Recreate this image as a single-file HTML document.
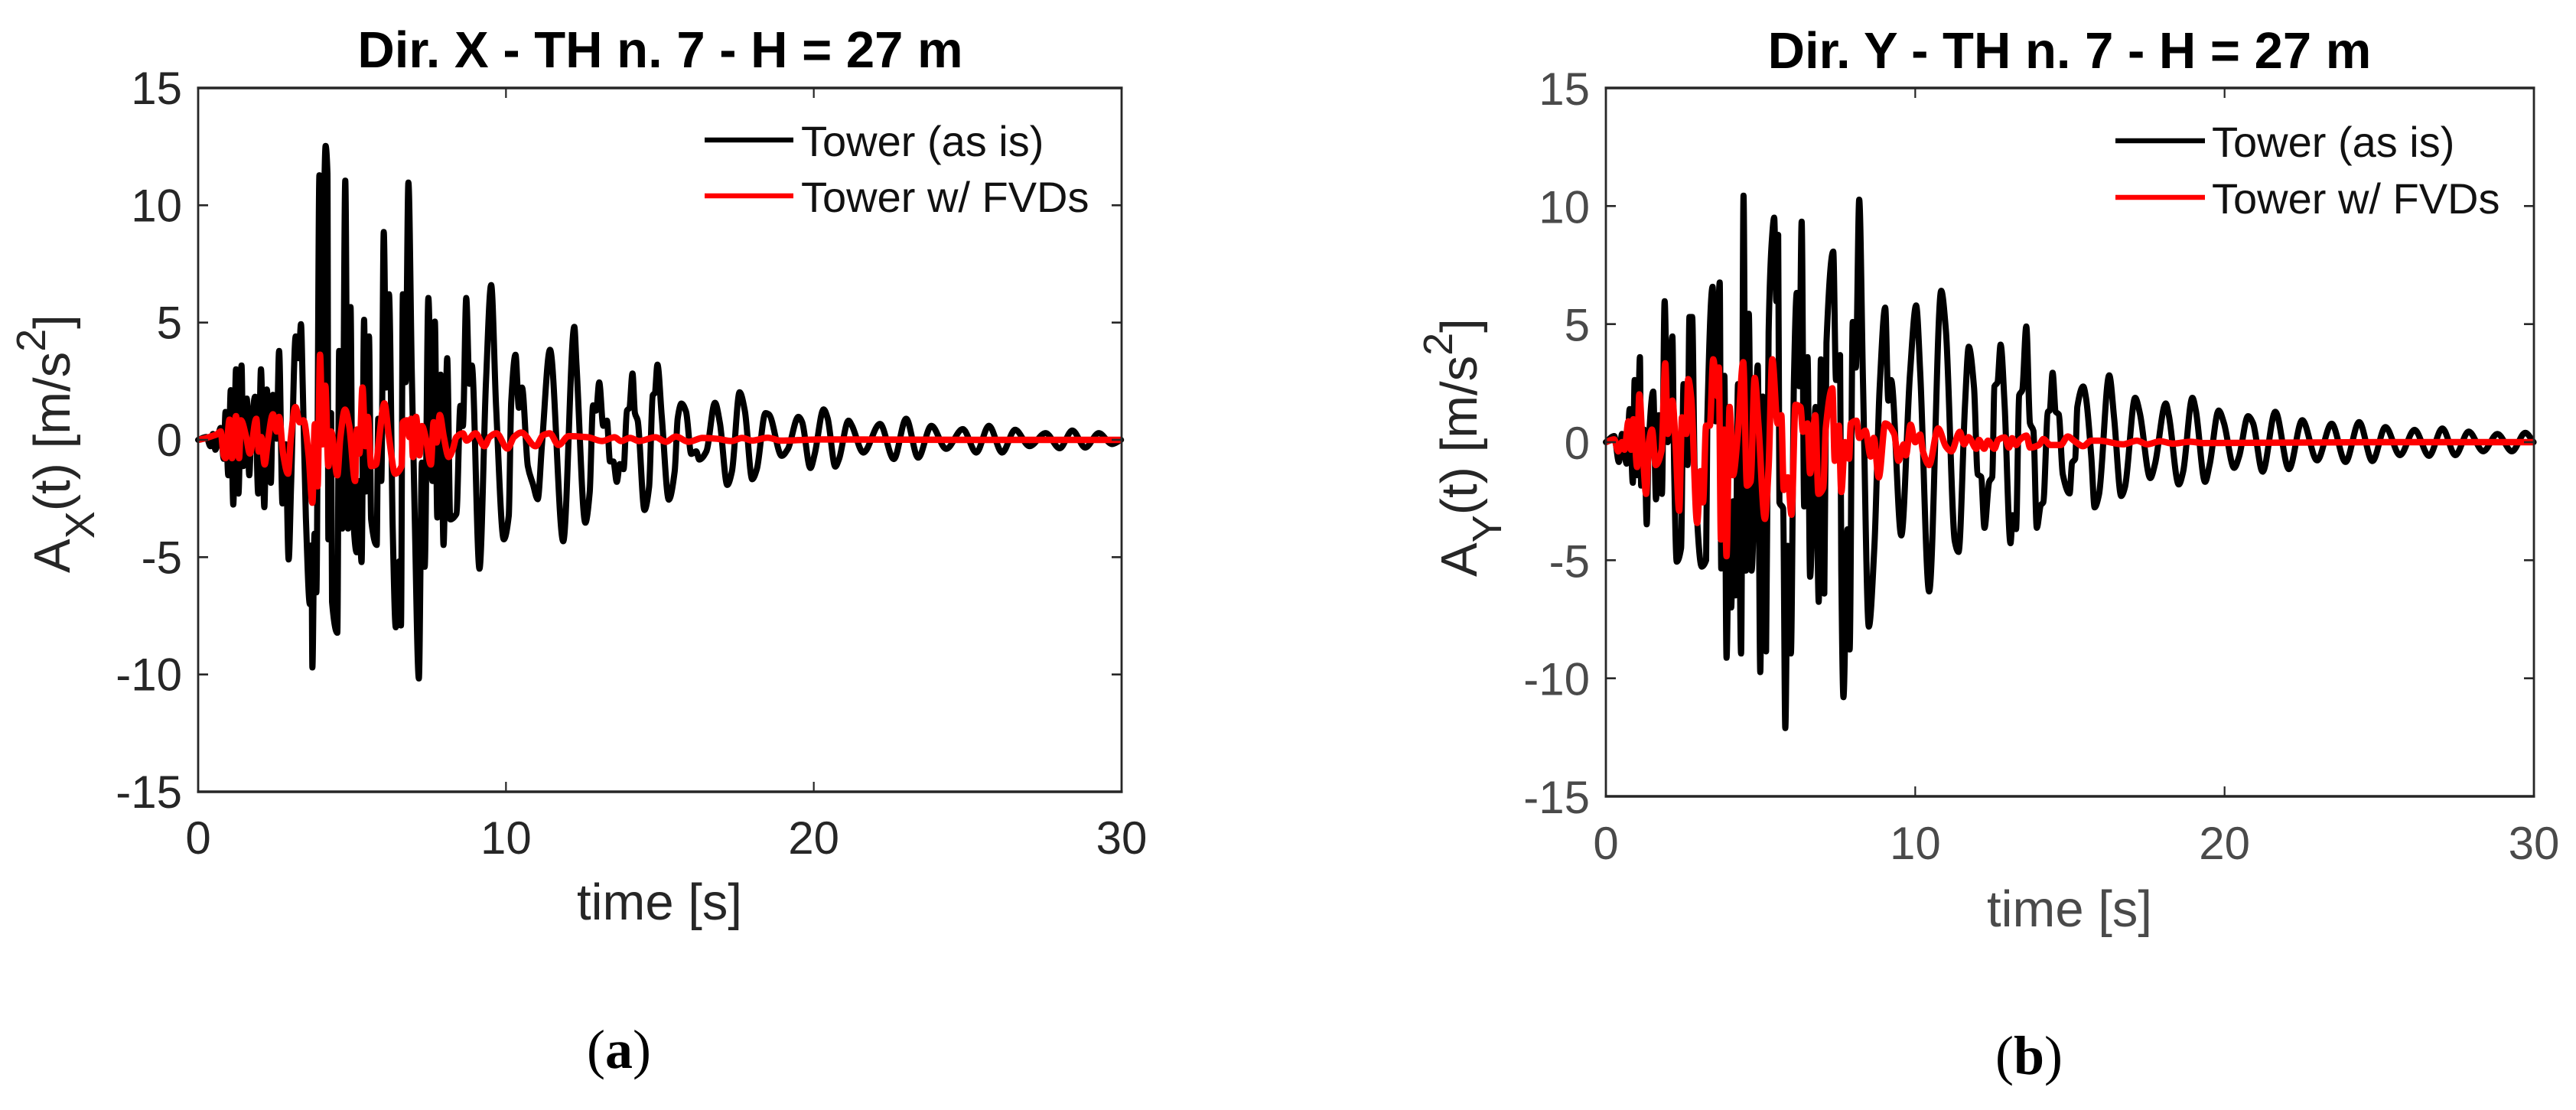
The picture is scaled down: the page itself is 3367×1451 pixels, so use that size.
<!DOCTYPE html>
<html lang="en">
<head>
<meta charset="utf-8">
<title>Tower acceleration time histories</title>
<style>
html,body{margin:0;padding:0;background:#fff;}
svg{display:block;font-family:"Liberation Sans",Arial,sans-serif;}
</style>
</head>
<body>
<svg id="figure" xmlns="http://www.w3.org/2000/svg" width="3367" height="1451" viewBox="0 0 3367 1451">
<rect x="0" y="0" width="3367" height="1451" fill="#fff"/>
<g id="panel-a"></g>
<g id="panel-b"></g>
<text x="809" y="1396" text-anchor="middle" font-family="'Liberation Serif',serif" font-size="72" fill="#000">(<tspan font-weight="bold">a</tspan>)</text>
<text x="2652" y="1404" text-anchor="middle" font-family="'Liberation Serif',serif" font-size="72" fill="#000">(<tspan font-weight="bold">b</tspan>)</text>
</svg>
<script>
var xTicks = [0, 10, 20, 30];
var yTicks = [-15, -10, -5, 0, 5, 10, 15];
var xTickLabels = ['0', '10', '20', '30'];
var yTickLabels = ['-15', '-10', '-5', '0', '5', '10', '15'];
var legendLabels = ['Tower (as is)', 'Tower w/ FVDs'];

var dirXAsIsTime = [
0,.27,.40,.48,.56,.73,.83,.89,.98,1.06,
1.14,1.23,1.31,1.41,1.47,1.58,1.66,1.72,1.85,1.95,
2.04,2.15,2.23,2.36,2.43,2.55,2.63,2.74,2.84,2.94,
3.02,3.17,3.27,3.34,3.40,3.50,3.63,3.68,3.71,3.78,3.84,3.94,4.0,4.08,
4.14,4.2,4.23,4.32,4.35,4.52,4.58,4.68,4.78,4.87,
4.95,5.01,5.15,5.20,5.31,5.39,5.45,5.55,5.62,5.80,
5.85,5.95,6.03,6.11,6.20,6.32,6.42,6.53,6.59,6.65,
6.74,6.83,6.94,7.03,7.17,7.27,7.36,7.48,7.61,7.69,
7.77,7.88,7.97,8.09,8.19,8.39,8.52,8.6,8.71,8.81,
8.89,9.14,9.35,9.52,9.68,9.93,10.09,10.17,10.31,10.42,
10.52,10.71,10.88,11.03,11.17,11.43,11.86,12.22,12.29,12.58,
12.72,12.83,12.93,13.03,13.16,13.28,13.38,13.49,13.6,13.7,
13.82,13.93,14.01,14.11,14.19,14.28,14.5,14.65,14.77,14.84,
14.92,15.06,15.29,15.48,15.58,15.7,15.85,16.02,16.18,16.28,
16.51,16.79,16.95,17.19,17.34,17.59,17.76,18.0,18.15,18.43,
18.54,18.96,19.16,19.5,19.62,19.89,20.03,20.32,20.45,20.7,
20.82,21.13,21.24,21.61,22.15,22.60,23.0,23.39,23.82,24.3,
24.84,25.28,25.69,26.12,26.54,27.01,27.53,27.99,28.4,28.82,
29.26,29.69,29.98];
var dirXAsIsAccel = [
0,.12,-.27,.25,-.42,.51,-.81,1.19,-1.51,2.12,
-2.76,3.01,-2.29,3.17,-1.12,1.76,-1.51,.20,1.84,-2.29,
3.01,-2.87,2.15,-1.83,1.92,.05,3.79,-2.71,-.19,-5.10,
-1.9,4.41,3.48,4.93,2.15,-3.31,-7,-4.5,-9.70,-4,-6.5,11.28,1.5,9.5,
12.53,11.36,-4.24,1.14,-6.9,-8.22,3.79,-3.78,11.05,-3.78,
5.66,-2.53,-4.79,-1.75,-5.21,5.12,-2.2,4.41,-3.39,-4.48,
.90,-1.75,8.86,2.23,6.21,-3.78,-7.99,-5.18,-7.91,6.21,
2.46,10.97,2.93,-2.84,-10.17,-.97,-5.41,6.05,-1.75,5.04,
-3.31,2.78,-4.48,3.48,-3.39,-3.15,1.45,.59,6.05,2.39,
3.17,-5.49,2.46,6.6,1.37,-4.24,-3.23,1.61,3.63,1.37,
2.23,-1.12,-1.9,-2.53,-.19,3.84,-4.32,4.82,3.21,-3.53,
-2.23,1.47,1.25,2.45,.6,.82,-.92,-.92,-1.79,-1.03,
-1.25,1.25,1.36,2.83,1.14,.82,-2.99,-2.01,1.9,2.01,
3.21,1.03,-2.55,-1.36,.92,1.55,1.2,-.6,-.49,-.84,
-.49,1.58,.71,-1.92,-1.36,2.03,1.25,-1.68,-1.25,1.14,
1.09,-.68,-.38,.98,.76,-1.2,-.6,1.3,.92,-1.14,
-.82,.82,.6,-.54,.68,-.82,.9,-.76,.6,-.38,
.46,-.54,.6,-.54,.43,-.27,.29,-.36,.4,-.33,
.29,-.18,0];

var dirXFvdTime = [
0,.27,.44,.6,.73,.83,.89,1.02,1.10,1.23,
1.33,1.39,1.56,1.68,1.89,1.97,2.05,2.16,2.26,2.43,
2.55,2.63,2.76,2.92,3.01,3.16,3.3,3.42,3.59,3.71,
3.79,3.88,3.96,4.04,4.13,4.23,4.32,4.52,4.62,4.77,
4.91,5.1,5.16,5.24,5.34,5.43,5.51,5.62,5.78,5.87,
6.05,6.2,6.4,6.61,6.65,6.78,6.86,6.92,6.98,7.08,
7.19,7.27,7.4,7.56,7.65,7.75,7.85,7.98,8.14,8.27,
8.39,8.6,8.72,9.01,9.3,9.47,9.69,10.05,10.26,10.5,
10.96,11.21,11.42,11.71,12.04,12.66,13.12,13.53,13.74,14.03,
14.32,14.86,15.19,15.52,15.93,16.39,16.84,17.34,17.67,18.0,
18.5,18.92,20.24,25,30];
var dirXFvdAccel = [
0,.08,.16,.23,.36,-.66,-.78,.86,-.78,1.01,
-.78,.83,.12,-.58,.9,-.5,.12,-1.05,-.11,1.09,
.36,.98,-.58,-1.44,.05,1.4,.75,.83,-.66,-2.68,
.67,-1.98,3.63,-.19,2.31,-1.12,.36,-1.51,.12,1.29,
.59,-1.75,.44,-.58,2.23,-.27,.98,-1.12,-1.05,-.03,
1.56,.12,-1.44,-1.12,.75,.83,.12,.9,-.73,.98,
-.66,.59,.05,-1.05,.75,-.11,1.06,.12,-.73,-.42,
.12,.28,-.03,.28,-.27,.12,.28,-.37,.12,.31,
-.27,.2,.28,-.22,.16,.11,-.05,.11,-.05,.08,
-.05,.11,-.08,.14,-.08,.08,.05,-.05,.08,-.03,
.09,-.03,.02,0,0];

var dirYAsIsTime = [
0,.27,.42,.52,.67,.77,.87,.93,1.01,1.10,
1.14,1.24,1.32,1.38,1.53,1.62,1.71,1.81,1.9,2.0,
2.15,2.21,2.29,2.43,2.51,2.64,2.7,2.79,2.87,3.1,
3.24,3.28,3.45,3.55,3.68,3.73,3.83,3.9,3.98,4.05,4.12,4.19,
4.27,4.37,4.45,4.53,4.62,4.71,4.91,4.99,5.07,5.18,
5.26,5.36,5.44,5.51,5.57,5.61,5.73,5.8,5.88,5.98,
6.08,6.17,6.25,6.33,6.41,6.52,6.6,6.78,6.88,6.95,
7.06,7.13,7.35,7.44,7.57,7.61,7.68,7.81,7.88,7.98,
8.08,8.19,8.31,8.5,8.68,8.85,9.03,9.13,9.22,9.55,
9.83,10.03,10.16,10.45,10.84,10.99,11.28,11.4,11.61,11.73,
11.9,12.02,12.13,12.24,12.39,12.49,12.56,12.66,12.76,12.89,
13.08,13.15,13.26,13.36,13.46,13.59,13.71,13.82,13.93,14.06,
14.14,14.29,14.35,14.44,14.54,14.64,14.77,14.99,15.07,15.17,
15.24,15.43,15.52,15.69,15.8,15.94,16.27,16.43,16.66,16.78,
17.11,17.26,17.6,17.75,18.1,18.2,18.52,18.66,18.96,19.07,
19.37,19.52,19.81,19.98,20.31,20.47,20.76,20.92,21.23,21.64,
22.08,22.51,22.99,23.46,23.91,24.35,24.78,25.2,25.67,26.14,
26.61,27.04,27.46,27.89,28.36,28.82,29.29,29.72,29.99];
var dirYAsIsAccel = [
0,.26,-.84,.35,-.91,1.4,-1.72,2.63,-1.4,3.6,
-1.84,.53,-3.48,-.18,2.14,-2.42,1.14,-2.19,5.97,0,
4.48,-1.4,-5.06,-4.48,2.46,-.97,5.3,5.3,-1.05,-5.27,
-5.0,.97,6.58,.88,6.76,-5.35,2.81,-9.13,-3.69,-7,-2.5,-6.49,
2.46,-8.95,10.44,-5.44,5.44,-5.44,3.25,-9.74,1.93,-8.86,
4.65,8.43,9.51,5.97,8.78,-2.55,-2.81,-12.11,-4.39,-8.95,
2.63,6.32,2.37,9.34,-2.72,3.6,-5.7,1.49,-6.76,3.51,
-6.41,4.21,8.07,2.63,3.69,-5.44,-10.8,-3.69,-8.78,5.09,
3.16,10.27,2.63,-7.81,-4.39,2.28,5.7,1.76,2.63,-3.95,
2.9,5.79,2.98,-6.32,6.41,4.74,-4.21,-4.65,1.58,4.04,
2.31,-1.36,-1.47,-3.63,-1.68,-1.47,2.36,2.53,4.13,1.56,
-4.28,-3.09,-3.68,1.99,2.2,4.9,.8,.48,-3.63,-2.66,
-2.55,1.29,1.34,2.94,1.29,1.18,-1.36,-2.17,-.87,-.71,
1.5,2.36,1.88,-.6,-2.76,-2.22,2.83,1.02,-2.28,-1.9,
1.88,1.23,-1.52,-.93,1.64,1.12,-1.79,-1.25,1.88,1.34,
-1.68,-.93,1.34,.8,-1.09,-.6,1.1,.8,-1.25,1.29,
-1.14,.93,-.77,.78,-.84,.85,-.8,.64,-.55,.52,
-.58,.58,-.55,.45,-.39,.35,-.39,.4,0];

var dirYFvdTime = [
0,.27,.4,.52,.6,.73,.81,.89,1.01,1.08,
1.2,1.3,1.39,1.49,1.61,1.8,1.92,2.0,2.15,2.25,
2.37,2.46,2.6,2.66,2.76,2.95,3.06,3.14,3.24,3.36,
3.47,3.61,3.65,3.72,3.82,3.9,4.0,4.11,4.27,4.44,
4.56,4.68,4.81,4.93,5.14,5.26,5.38,5.55,5.67,5.75,
5.88,6.0,6.13,6.29,6.37,6.52,6.6,6.77,6.87,7.03,
7.11,7.32,7.4,7.53,7.61,7.73,7.86,7.92,8.1,8.19,
8.39,8.56,8.66,8.82,9.03,9.32,9.46,9.63,9.7,9.85,
10.0,10.16,10.25,10.45,10.74,10.99,11.17,11.44,11.58,11.72,
11.98,12.06,12.23,12.35,12.56,12.68,12.89,13.03,13.13,13.26,
13.38,13.6,13.71,14.0,14.14,14.37,14.7,14.93,15.15,15.43,
15.69,15.94,16.72,17.17,17.5,17.92,18.33,18.9,19.3,25,
30];
var dirYFvdAccel = [
0,.12,-.39,0,-.32,.88,-.32,.97,-1.05,2.02,
-.53,-2.19,0,.53,-.97,-.35,3.34,.35,1.76,0,
-2.9,1.05,.35,2.67,1.84,-3.42,-1.23,-2.55,.7,.7,
3.51,1.93,3.16,-4.12,.53,-4.83,1.49,-1.4,.44,3.39,
-1.84,-1.67,2.72,.79,-3.25,-1.05,3.51,.79,1.14,-2.02,
-1.49,-3.07,1.58,1.49,.44,.79,-1.32,1.14,-2.19,-1.93,
.61,2.28,-.79,.7,-2.11,0,-.7,.79,.91,.18,
.49,-.61,.18,-1.49,.79,.35,-.79,-.09,-.56,.74,
0,.32,-.39,-.97,.58,-.18,-.39,.44,-.09,.21,
-.28,.1,-.28,.06,-.28,.1,.2,-.23,.17,-.12,
.1,.28,-.23,-.12,.13,-.12,-.12,.24,.04,-.17,
.06,.06,-.09,.06,-.09,.04,-.06,.02,-.04,0,
0];

var SVGNS = 'http://www.w3.org/2000/svg';

function mk(parent, tag, attrs, txt) {
  var el = document.createElementNS(SVGNS, tag);
  for (var k in attrs) { el.setAttribute(k, attrs[k]); }
  if (txt !== undefined) { el.textContent = txt; }
  parent.appendChild(el);
  return el;
}

function smoothPath(xs, ys) {
  var n = Math.min(xs.length, ys.length);
  var slopes = [], tangents = [], i;
  for (i = 0; i < n - 1; i++) { slopes.push((ys[i + 1] - ys[i]) / (xs[i + 1] - xs[i])); }
  tangents.push(slopes[0]);
  for (i = 1; i < n - 1; i++) {
    if (slopes[i - 1] * slopes[i] <= 0) { tangents.push(0); }
    else { tangents.push(2 * slopes[i - 1] * slopes[i] / (slopes[i - 1] + slopes[i])); }
  }
  tangents.push(slopes[n - 2]);
  var d = 'M' + xs[0].toFixed(1) + ' ' + ys[0].toFixed(1);
  for (i = 0; i < n - 1; i++) {
    var h = (xs[i + 1] - xs[i]) / 3;
    d += 'C' + (xs[i] + h).toFixed(1) + ' ' + (ys[i] + tangents[i] * h).toFixed(1) + ' ' +
         (xs[i + 1] - h).toFixed(1) + ' ' + (ys[i + 1] - tangents[i + 1] * h).toFixed(1) + ' ' +
         xs[i + 1].toFixed(1) + ' ' + ys[i + 1].toFixed(1);
  }
  return d;
}

function drawPanel(cfg) {
  var g = document.getElementById(cfg.id);
  var sx = function (t) { return cfg.left + (t - 0) / 30 * (cfg.right - cfg.left); };
  var sy = function (v) { return cfg.top + (15 - v) / 30 * (cfg.bottom - cfg.top); };
  var i, el;

  var black = mk(g, 'path', {d: smoothPath(cfg.blackT.map(sx), cfg.blackA.map(sy)), fill: 'none', stroke: '#000', 'stroke-width': 8, 'stroke-linejoin': 'round', 'stroke-linecap': 'round'});
  
  
  var red = mk(g, 'path', {d: smoothPath(cfg.redT.map(sx), cfg.redA.map(sy)), fill: 'none', stroke: '#f00', 'stroke-width': 8.4, 'stroke-linejoin': 'round', 'stroke-linecap': 'butt'});
  
  

  var box = mk(g, 'g', {stroke: '#262626', fill: 'none'});
  
  
  mk(box, 'line', {x1: cfg.left - 1.5, x2: cfg.right + 1.5, y1: cfg.top, y2: cfg.top, 'stroke-width': 3.6});
  mk(box, 'line', {x1: cfg.left - 1.5, x2: cfg.right + 1.5, y1: cfg.bottom, y2: cfg.bottom, 'stroke-width': 3.6});
  mk(box, 'line', {x1: cfg.left, x2: cfg.left, y1: cfg.top, y2: cfg.bottom, 'stroke-width': 2.8});
  mk(box, 'line', {x1: cfg.right, x2: cfg.right, y1: cfg.top, y2: cfg.bottom, 'stroke-width': 2.8});

  for (i = 0; i < xTicks.length; i++) {
    var px = sx(xTicks[i]);
    if (i > 0 && i < xTicks.length - 1) {
      mk(box, 'line', {x1: px, x2: px, y1: cfg.top, y2: cfg.top + 13, 'stroke-width': 2.2});
      mk(box, 'line', {x1: px, x2: px, y1: cfg.bottom, y2: cfg.bottom - 13, 'stroke-width': 2.2});
    }
    el = mk(g, 'text', {x: px, y: cfg.xTickBase, 'text-anchor': 'middle', 'font-size': 60, fill: cfg.tickColor}, xTickLabels[i]);
    
    
  }
  for (i = 0; i < yTicks.length; i++) {
    var py = sy(yTicks[i]);
    if (i > 0 && i < yTicks.length - 1) {
      mk(box, 'line', {x1: cfg.left, x2: cfg.left + 13, y1: py, y2: py, 'stroke-width': 2.6});
      mk(box, 'line', {x1: cfg.right, x2: cfg.right - 13, y1: py, y2: py, 'stroke-width': 2.6});
    }
    el = mk(g, 'text', {x: cfg.yTickRight, y: py + cfg.yTickDrop, 'text-anchor': 'end', 'font-size': 60, fill: cfg.tickColor}, yTickLabels[i]);
    
    
  }

  el = mk(g, 'text', {x: cfg.titleX, y: cfg.titleY, 'text-anchor': 'middle', 'font-size': 67, 'font-weight': 'bold', fill: '#000'}, cfg.title);
  
  

  el = mk(g, 'text', {x: cfg.xLabelX, y: cfg.xLabelY, 'text-anchor': 'middle', 'font-size': 67, fill: cfg.tickColor}, 'time [s]');
  
  

  var yl = mk(g, 'text', {transform: 'translate(' + cfg.yLabelX + ',' + cfg.yLabelY + ') rotate(-90)', 'font-size': 67, fill: '#262626'});
  
  
  mk(yl, 'tspan', {}, 'A');
  mk(yl, 'tspan', {'font-size': 54, dy: 32}, cfg.sub);
  mk(yl, 'tspan', {dy: -32}, '(t) [m/s');
  mk(yl, 'tspan', {'font-size': 54, dy: -32}, '2');
  mk(yl, 'tspan', {dy: 32}, ']');

  var lg = mk(g, 'g', {});
  
  
  var colors = ['#000', '#f00'];
  for (i = 0; i < legendLabels.length; i++) {
    el = mk(lg, 'line', {x1: cfg.legX1, x2: cfg.legX2, y1: cfg.legY[i], y2: cfg.legY[i], stroke: colors[i], 'stroke-width': 6.5});
    
    
    el = mk(lg, 'text', {x: cfg.legText, y: cfg.legY[i] + 21, 'font-size': 56, fill: '#111'}, legendLabels[i]);
    
    
  }
}

drawPanel({
  id: 'panel-a', left: 259, right: 1466, top: 115, bottom: 1035,
  blackT: dirXAsIsTime, blackA: dirXAsIsAccel, redT: dirXFvdTime, redA: dirXFvdAccel,
  tickColor: '#262626', xTickBase: 1116, yTickRight: 238, yTickDrop: 21,
  title: 'Dir. X - TH n. 7 - H = 27 m', titleX: 863, titleY: 88,
  xLabelX: 862, xLabelY: 1202, yLabelX: 91, yLabelY: 749, sub: 'X',
  legX1: 921, legX2: 1037, legY: [183, 256], legText: 1047
});
drawPanel({
  id: 'panel-b', left: 2099, right: 3312, top: 115, bottom: 1041,
  blackT: dirYAsIsTime, blackA: dirYAsIsAccel, redT: dirYFvdTime, redA: dirYFvdAccel,
  tickColor: '#4a4a4a', xTickBase: 1123, yTickRight: 2078, yTickDrop: 22,
  title: 'Dir. Y - TH n. 7 - H = 27 m', titleX: 2705, titleY: 89,
  xLabelX: 2705, xLabelY: 1211, yLabelX: 1930, yLabelY: 754, sub: 'Y',
  legX1: 2765, legX2: 2882, legY: [184, 258], legText: 2891
});
</script>
</body>
</html>
